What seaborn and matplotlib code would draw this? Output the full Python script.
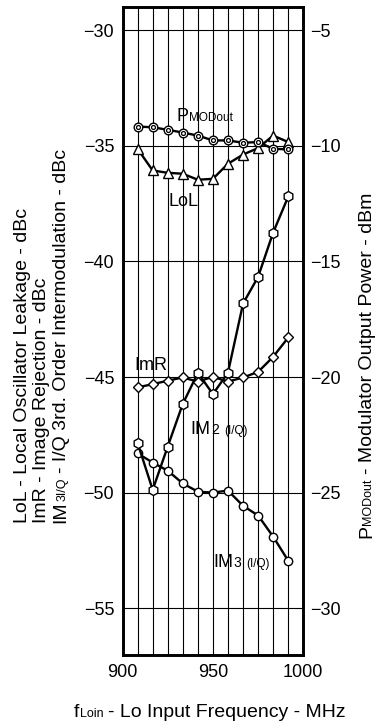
import matplotlib
matplotlib.use("Agg")
import matplotlib.pyplot as plt
from matplotlib.ticker import MultipleLocator, FixedLocator
from matplotlib.transforms import IdentityTransform
import seaborn as sns

# LO input frequency (MHz) for each measurement
freq_mhz = [908.3, 916.7, 925.0, 933.3, 941.7, 950.0, 958.3, 966.7, 975.0, 983.3, 991.7]

# Left-axis quantities (dBc)
lol_dbc = [-35.13, -36.07, -36.17, -36.21, -36.47, -36.43, -35.78, -35.38, -35.10, -34.56, -34.84]
imr_dbc = [-45.45, -45.31, -45.16, -45.02, -45.20, -44.99, -45.20, -45.02, -44.78, -44.13, -43.29]
im2_dbc = [-47.84, -49.88, -48.01, -46.17, -44.82, -45.74, -44.82, -41.82, -40.67, -38.76, -37.19]
im3_dbc = [-48.30, -48.70, -49.05, -49.60, -49.96, -50.00, -49.91, -50.57, -50.99, -51.90, -52.95]

# Right-axis quantity (dBm)
pmod_dbm = [-9.17, -9.20, -9.31, -9.43, -9.56, -9.77, -9.77, -9.87, -9.84, -10.13, -10.16]

left_ticks = [-30, -35, -40, -45, -50, -55]
right_ticks = [-5, -10, -15, -20, -25, -30]
x_ticks = [900, 950, 1000]

sns.set_style("white")
plt.rcParams["font.family"] = ["Liberation Sans", "DejaVu Sans"]
plt.rcParams["axes.unicode_minus"] = True

W, H = 378, 728
fig = plt.figure(figsize=(W / 100, H / 100), dpi=100)
x0, x1, y_top, y_bot = 122.5, 303.3, 7.0, 654.5
ax = fig.add_axes([x0 / W, 1 - y_bot / H, (x1 - x0) / W, (y_bot - y_top) / H])
ax2 = ax.twinx()

ax.set_xlim(900, 1000)
ax.set_ylim(-57, -29)
ax2.set_ylim(-32, -4)

line_kw = dict(color="black", linewidth=1.7, markerfacecolor="white",
               markeredgecolor="black", markeredgewidth=1.0, zorder=5)
sns.lineplot(x=freq_mhz, y=im3_dbc, ax=ax, marker="o", markersize=6.0, **line_kw)
sns.lineplot(x=freq_mhz, y=im2_dbc, ax=ax, marker="h", markersize=7.2, **line_kw)
sns.lineplot(x=freq_mhz, y=imr_dbc, ax=ax, marker="D", markersize=5.6, **line_kw)
sns.lineplot(x=freq_mhz, y=lol_dbc, ax=ax, marker="^", markersize=7.0, **line_kw)

sns.lineplot(x=freq_mhz, y=pmod_dbm, ax=ax2, marker="o", markersize=6.2, **line_kw)
sns.scatterplot(x=freq_mhz, y=pmod_dbm, ax=ax2, marker="o", s=8, color="white",
                edgecolor="black", linewidth=0.9, zorder=6)

for a in (ax, ax2):
    a.set_xlabel("")
    a.set_ylabel("")
    for sp in a.spines.values():
        sp.set_linewidth(1.9)
        sp.set_color("black")
        sp.set_visible(True)

ax.xaxis.set_major_locator(FixedLocator(x_ticks))
ax.xaxis.set_minor_locator(MultipleLocator(100 / 12))
ax.yaxis.set_major_locator(FixedLocator(left_ticks))
ax2.yaxis.set_major_locator(FixedLocator(right_ticks))

ax.grid(which="both", axis="x", color="black", linewidth=0.8)
ax.grid(which="major", axis="y", color="black", linewidth=0.8)
ax2.grid(False)
ax.set_axisbelow(True)

ax.tick_params(axis="both", which="both", length=0, labelsize=13, colors="black")
ax.tick_params(axis="x", pad=7)
ax.tick_params(axis="y", pad=6)
ax2.tick_params(axis="y", length=0, labelsize=13, pad=5, colors="black")

fig.canvas.draw()
renderer = fig.canvas.get_renderer()


def rich_text(x, y, pieces, rotation=0, align="left"):
    """Draw a run of text pieces of different sizes sharing one baseline.
    x, y are pixel coordinates measured from the top-left corner."""
    texts, lengths = [], []
    for s, size, gap in pieces:
        t = fig.text(0, 0, s, fontsize=size, rotation=rotation,
                     rotation_mode="anchor", ha="left", va="baseline",
                     color="black", transform=IdentityTransform())
        bb = t.get_window_extent(renderer)
        texts.append((t, gap))
        lengths.append(gap + (bb.height if rotation == 90 else bb.width))
    total = sum(lengths)
    pos = -total / 2 if align == "center" else 0.0
    yy = H - y
    for (t, gap), L in zip(texts, lengths):
        if rotation == 90:
            t.set_position((x, yy + pos + gap))
        else:
            t.set_position((x + pos + gap, yy))
        pos += L
    return texts


def data_px(xv, yv, axis=ax):
    px, py = axis.transData.transform((xv, yv))
    return px, H - py


BIG, SMALL = 13, 8.5

# curve labels
px, py = data_px(930.1, -33.92)
rich_text(px, py, [("P", BIG, 0), ("MODout", SMALL, 0)])
px, py = data_px(925.5, -37.6)
rich_text(px, py, [("LoL", BIG, 0)])
px, py = data_px(906.8, -44.7)
rich_text(px, py, [("ImR", BIG, 0)])
px, py = data_px(937.3, -47.45)
rich_text(px, py, [("IM", BIG, 0), ("2", SMALL + 1.5, 1), ("(I/Q)", SMALL, 5)])
px, py = data_px(950.0, -53.2)
rich_text(px, py, [("IM", BIG, 0), ("3", SMALL + 1.5, 1), ("(I/Q)", SMALL, 5)])

# axis titles
TITLE, TITLE_SUB = 14, 9
rich_text(27, 523, [("LoL - Local Oscillator Leakage - dBc", TITLE, 0)], rotation=90)
rich_text(46.5, 523, [("ImR - Image Rejection - dBc", TITLE, 0)], rotation=90)
rich_text(65.5, 523, [("IM", TITLE, 0), ("3I/Q", TITLE_SUB, 0),
                      ("- I/Q 3rd. Order Intermodulation - dBc", TITLE, 5)],
          rotation=90)

rich_text(371.5, 538, [("P", TITLE, 0), ("MODout", TITLE_SUB, 0),
                       ("- Modulator Output Power - dBm", TITLE, 5)],
          rotation=90)

rich_text(210, 717, [("f", TITLE, 0), ("Loin", TITLE_SUB, 0),
                     ("- Lo Input Frequency - MHz", TITLE, 5)], align="center")

fig.savefig("out.png", dpi=100, facecolor="white")
